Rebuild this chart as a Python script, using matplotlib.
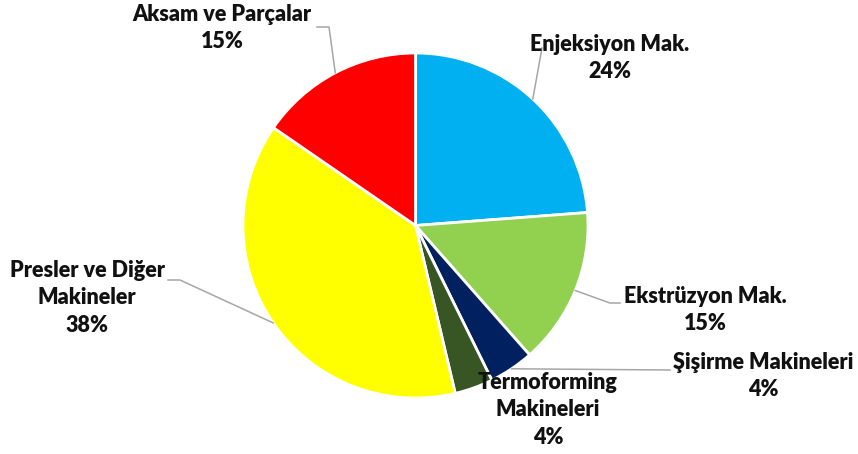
import numpy as np
import matplotlib.pyplot as plt

plt.rcParams['font.family'] = ['Lato', 'DejaVu Sans']

# veri
kategoriler = ['Enjeksiyon Mak.', 'Ekstrüzyon Mak.', 'Şişirme Makineleri',
               'Termoforming\nMakineleri', 'Presler ve Diğer\nMakineler', 'Aksam ve Parçalar']
degerler = [23.8, 14.7, 4.2, 3.6, 38.3, 15.4]
renkler = ['#00B0F0', '#92D050', '#002060', '#375623', '#FFFF00', '#FF0000']

W, H = 858, 454
fig = plt.figure(figsize=(W / 100, H / 100), dpi=100)
ax = fig.add_axes([0, 0, 1, 1])

merkez = (415.5, H - 225.5)
yaricap = 172.5
dilimler, _ = ax.pie(degerler, colors=renkler, startangle=90, counterclock=False,
                     center=merkez, radius=yaricap, frame=True,
                     wedgeprops=dict(edgecolor='white', linewidth=2))

# etiket yerleri (piksel, y aşağı) ve kırık çizgi noktaları
etiket_yer = [(610, 58), (705, 310), (763, 376), (548, 410), (87, 298), (222, 28)]
kirik = [[(542, 48)], [(610, 303), (620, 303)], [(670, 370)], None,
         [(180, 280), (168, 280)], [(329, 27), (317, 27)]]

for dilim, ad, deger, (x, y), noktalar in zip(dilimler, kategoriler, degerler, etiket_yer, kirik):
    aci = np.deg2rad((dilim.theta1 + dilim.theta2) / 2)
    kx = merkez[0] + yaricap * np.cos(aci)
    ky = merkez[1] + yaricap * np.sin(aci)
    if noktalar:
        xs = [kx] + [p[0] for p in noktalar]
        ys = [ky] + [H - p[1] for p in noktalar]
        ax.plot(xs, ys, color='#A6A6A6', lw=1.1, zorder=1)
    ax.text(x, H - y, f'{ad}\n{deger:.0f}%', ha='center', va='center',
            fontsize=15.5, fontweight='heavy', color='#111111', linespacing=1.4, zorder=5)

ax.set_xlim(0, W)
ax.set_ylim(0, H)
ax.set_aspect('equal')
ax.axis('off')

fig.savefig('out.png', dpi=100)
